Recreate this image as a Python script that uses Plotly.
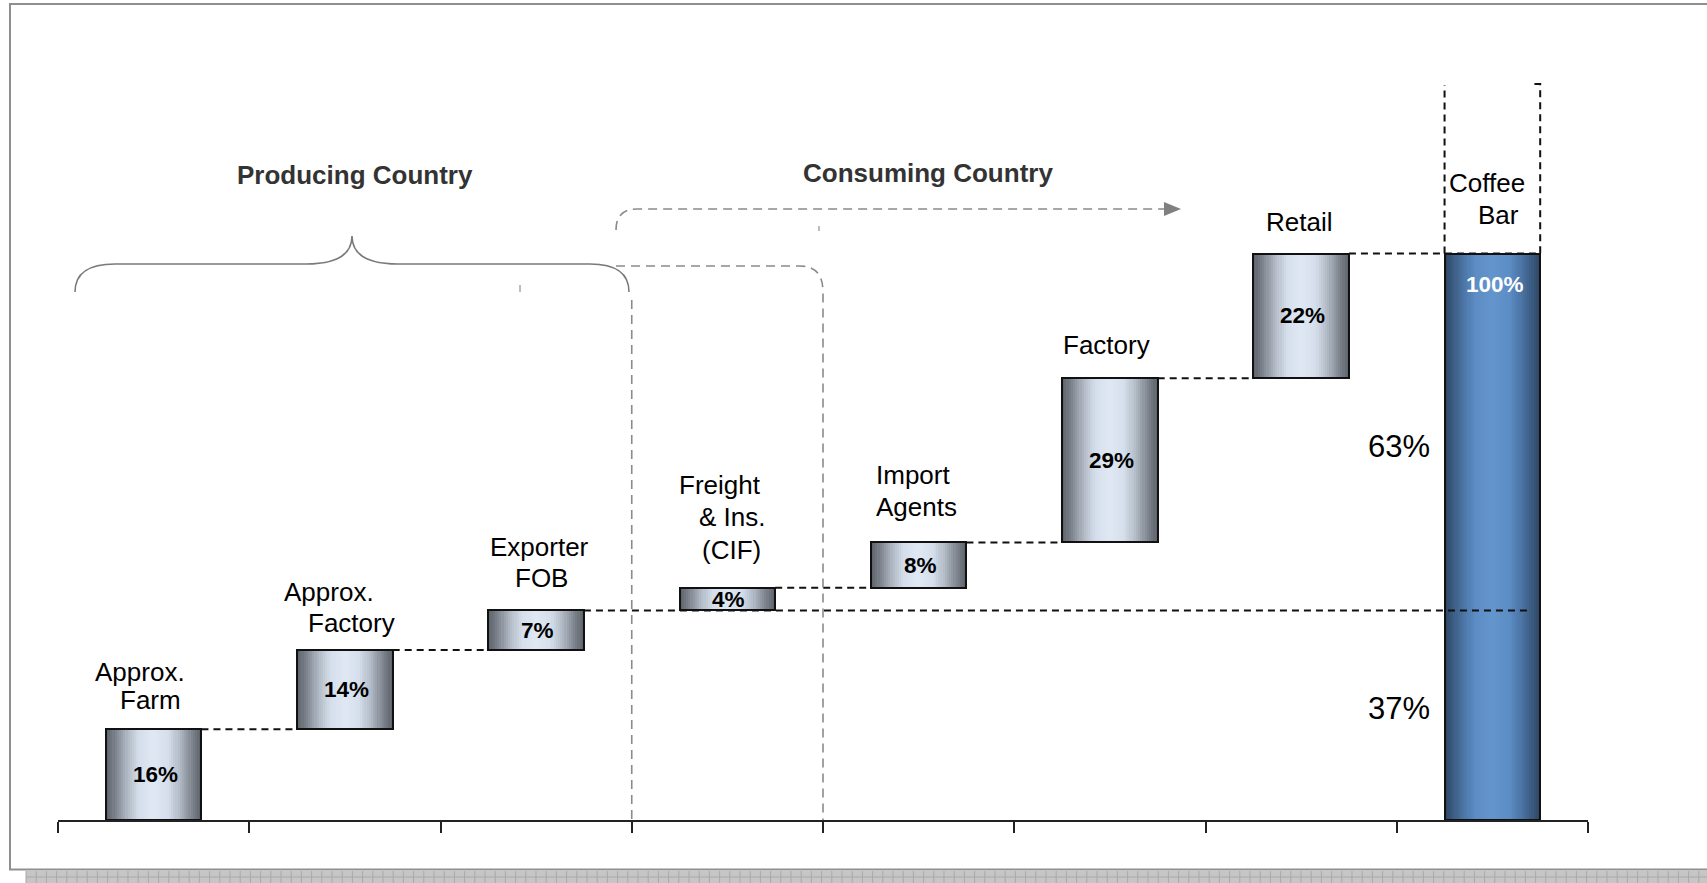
import plotly.graph_objects as go
from plotly.colors import sample_colorscale

# ---------------- data ----------------
STAGE_LINES = [
    ["Approx.", "Farm"],
    ["Approx.", "Factory"],
    ["Exporter", "FOB"],
    ["Freight", "& Ins.", "(CIF)"],
    ["Import", "Agents"],
    ["Factory"],
    ["Retail"],
    ["Coffee", "Bar"],
]
STEP_SHARES = [16, 14, 7, 4, 8, 29, 22]   # % of the coffee-bar price added at each stage
TOTAL_SHARE = 100                          # coffee bar price
PRODUCING_STAGES = 3                       # stages that happen in the producing country
GROUP_TITLES = ["Producing Country", "Consuming Country"]

# ---------------- derived values ----------------
bases = []
running = 0
for s in STEP_SHARES:
    bases.append(running)
    running += s
tops = [b + s for b, s in zip(bases, STEP_SHARES)]
n_cat = len(STAGE_LINES)
centers = [i + 0.5 for i in range(n_cat)]
producing_total = sum(STEP_SHARES[:PRODUCING_STAGES])
consuming_total = TOTAL_SHARE - producing_total

bar_x = centers
bar_y = STEP_SHARES + [TOTAL_SHARE]
bar_base = bases + [0]

# ---------------- layout constants ----------------
W, H = 1707, 883
M_L, M_R, M_T, M_B = 58, 119, 27, 63
Y_MAX = 140
BAR_W = 0.5
HALF = BAR_W / 2
FONT = "Liberation Sans, Arial, Helvetica, sans-serif"
PLOT_W = W - M_L - M_R
PLOT_H = H - M_T - M_B


def dx(px):
    """page pixel -> x data units"""
    return (px - M_L) / (PLOT_W / n_cat)


def dy(py):
    """page pixel -> y data units"""
    return (H - M_B - py) / (PLOT_H / Y_MAX)


def pxp(px):
    return (px - M_L) / PLOT_W


def pyp(py):
    return (H - M_B - py) / PLOT_H


fig = go.Figure()

# ---------------- cylinder-like shaded bars ----------------
GRAY_SCALE = [[0, "rgb(223,232,243)"], [0.3, "rgb(213,223,235)"], [0.55, "rgb(176,185,196)"],
              [0.8, "rgb(126,132,141)"], [1, "rgb(92,97,105)"]]
BLUE_SCALE = [[0, "rgb(99,149,205)"], [0.35, "rgb(93,141,197)"], [0.6, "rgb(76,117,166)"],
              [0.85, "rgb(57,88,125)"], [1, "rgb(44,68,98)"]]
N_LAYERS = 22
for k in range(N_LAYERS):
    w = BAR_W * (1 - k / N_LAYERS)
    d = 1 - (k + 0.5) / N_LAYERS
    g = sample_colorscale(GRAY_SCALE, [d])[0]
    b = sample_colorscale(BLUE_SCALE, [d])[0]
    fig.add_trace(go.Bar(
        x=bar_x, y=bar_y, base=bar_base, width=w,
        marker=dict(color=[g] * len(STEP_SHARES) + [b], line=dict(width=0)),
        hoverinfo="skip", showlegend=False,
    ))

# bar outlines
fig.add_trace(go.Bar(
    x=bar_x, y=bar_y, base=bar_base, width=BAR_W,
    marker=dict(color="rgba(0,0,0,0)", line=dict(color="#111111", width=2)),
    hoverinfo="skip", showlegend=False,
))

shapes = []

# ---------------- connectors ----------------
BLK_DASH = "7px,5px"
SPLIT_LINE_END = 7.69
for i in range(len(STEP_SHARES) - 1):
    if i == PRODUCING_STAGES - 1:
        continue
    shapes.append(dict(type="line", xref="x", yref="y",
                       x0=centers[i] + HALF, x1=centers[i + 1] - HALF, y0=tops[i], y1=tops[i],
                       line=dict(color="#111111", width=2, dash=BLK_DASH)))
# split between producing and consuming share
shapes.append(dict(type="line", xref="x", yref="y",
                   x0=centers[PRODUCING_STAGES - 1] + HALF, x1=SPLIT_LINE_END,
                   y0=producing_total, y1=producing_total,
                   line=dict(color="#111111", width=2, dash=BLK_DASH)))
# retail -> coffee bar
shapes.append(dict(type="line", xref="x", yref="y",
                   x0=centers[-2] + HALF, x1=centers[-1] + HALF, y0=tops[-1], y1=tops[-1],
                   line=dict(color="#111111", width=2, dash=BLK_DASH)))

# dashed box above the coffee bar
cb_l, cb_r = centers[-1] - HALF, centers[-1] + HALF
shapes.append(dict(type="path", xref="x", yref="y",
                   path=f"M {cb_l},{TOTAL_SHARE} L {cb_l},{dy(85)}",
                   line=dict(color="#111111", width=2, dash=BLK_DASH)))
shapes.append(dict(type="path", xref="x", yref="y",
                   path=f"M {cb_r - 0.03},{dy(84)} L {cb_r},{dy(84)} L {cb_r},{TOTAL_SHARE}",
                   line=dict(color="#111111", width=2, dash=BLK_DASH)))

# ---------------- producing-country brace ----------------
GRAY = "#7a7a7a"
brace = (f"M {dx(75)},{dy(292)} Q {dx(75)},{dy(264)} {dx(115)},{dy(264)} "
         f"L {dx(306)},{dy(264)} Q {dx(352)},{dy(264)} {dx(352)},{dy(236)} "
         f"Q {dx(352)},{dy(264)} {dx(398)},{dy(264)} "
         f"L {dx(590)},{dy(264)} Q {dx(629)},{dy(264)} {dx(629)},{dy(292)}")
shapes.append(dict(type="path", xref="x", yref="y", path=brace,
                   line=dict(color=GRAY, width=1.6)))
shapes.append(dict(type="line", xref="x", yref="y", x0=dx(520), x1=dx(520),
                   y0=dy(285), y1=dy(292), line=dict(color=GRAY, width=1)))

# ---------------- consuming-country dashed arrow ----------------
GRAY_DASH = "9px,6px"
arrow = f"M {dx(616)},{dy(230)} Q {dx(616)},{dy(209)} {dx(637)},{dy(209)} L {dx(1166)},{dy(209)}"
shapes.append(dict(type="path", xref="x", yref="y", path=arrow,
                   line=dict(color="#8a8a8a", width=1.6, dash=GRAY_DASH)))
shapes.append(dict(type="path", xref="x", yref="y",
                   path=f"M {dx(1164)},{dy(202)} L {dx(1181)},{dy(209)} L {dx(1164)},{dy(216)} Z",
                   fillcolor="#808080", line=dict(width=0)))
shapes.append(dict(type="line", xref="x", yref="y", x0=dx(819), x1=dx(819),
                   y0=dy(226), y1=dy(231), line=dict(color=GRAY, width=1)))

# bracket around the shipping stage
fr_l, fr_r = float(PRODUCING_STAGES), float(PRODUCING_STAGES + 1)
bracket = (f"M {dx(616)},{dy(266)} L {dx(800)},{dy(266)} "
           f"Q {fr_r},{dy(266)} {fr_r},{dy(292)} L {fr_r},0")
shapes.append(dict(type="path", xref="x", yref="y", path=bracket,
                   line=dict(color="#8a8a8a", width=1.6, dash=GRAY_DASH)))
shapes.append(dict(type="line", xref="x", yref="y", x0=fr_l, x1=fr_l, y0=dy(300), y1=0,
                   line=dict(color="#8a8a8a", width=1.6, dash=GRAY_DASH)))

# ---------------- slide frame and footer band ----------------
shapes.append(dict(type="path", xref="paper", yref="paper",
                   path=f"M {pxp(1712)},{pyp(4)} L {pxp(10)},{pyp(4)} L {pxp(10)},{pyp(869.5)} L {pxp(1712)},{pyp(869.5)}",
                   line=dict(color="#8f8f8f", width=2)))
shapes.append(dict(type="rect", xref="paper", yref="paper",
                   x0=pxp(26), x1=pxp(1710), y0=pyp(871), y1=pyp(884),
                   fillcolor="#c6c6c6", line=dict(width=0)))
grid = [f"M {pxp(26)},{pyp(877)} L {pxp(1710)},{pyp(877)}"]
gx = 26
while gx < 1710:
    grid.append(f"M {pxp(gx)},{pyp(871)} L {pxp(gx)},{pyp(884)}")
    gx += 10.2
shapes.append(dict(type="path", xref="paper", yref="paper", path=" ".join(grid),
                   line=dict(color="#a9a9a9", width=1)))

# ---------------- text ----------------
annotations = []

# stage names above bars: (x shift, y shift above bar top) per line
LABEL_SHIFTS = [
    [(-13.6, 57.7), (-3.6, 29.4)],
    [(-15.4, 58.1), (6.8, 27.1)],
    [(2.9, 63.4), (5.6, 32.4)],
    [(-7.4, 102.8), (4.6, 71.1), (4.6, 37.8)],
    [(-5.6, 67.5), (-1.9, 35.8)],
    [(-2.9, 33.2)],
    [(-2.1, 31.9)],
    [(-5.4, 70.6), (6.6, 38.6)],
]
bar_tops = tops + [TOTAL_SHARE]
for i, lines in enumerate(STAGE_LINES):
    for line, (xs, ys) in zip(lines, LABEL_SHIFTS[i]):
        annotations.append(dict(text=line, x=centers[i], y=bar_tops[i], xref="x", yref="y",
                                xshift=xs, yshift=ys, showarrow=False,
                                xanchor="center", yanchor="middle",
                                font=dict(family=FONT, size=26, color="#000000")))

# values inside step bars
for i, (b, s) in enumerate(zip(bases, STEP_SHARES)):
    annotations.append(dict(text=f"<b>{s}%</b>", x=centers[i], y=b + s / 2, xref="x", yref="y",
                            xshift=1.5, showarrow=False, xanchor="center", yanchor="middle",
                            font=dict(family=FONT, size=22.5, color="#000000")))
# total inside coffee bar
annotations.append(dict(text=f"<b>{TOTAL_SHARE}%</b>", x=centers[-1], y=TOTAL_SHARE,
                        xref="x", yref="y", xshift=2.6, yshift=-31.4, showarrow=False,
                        xanchor="center", yanchor="middle",
                        font=dict(family=FONT, size=22.5, color="#ffffff")))
# producing / consuming split
annotations.append(dict(text=f"{consuming_total}%", x=cb_l, y=producing_total + consuming_total / 2,
                        xref="x", yref="y", xshift=-13, yshift=-14.7, showarrow=False,
                        xanchor="right", yanchor="middle",
                        font=dict(family=FONT, size=31, color="#000000")))
annotations.append(dict(text=f"{producing_total}%", x=cb_l, y=producing_total / 2,
                        xref="x", yref="y", xshift=-13, yshift=6.9, showarrow=False,
                        xanchor="right", yanchor="middle",
                        font=dict(family=FONT, size=31, color="#000000")))

# group titles
for title, (tx, ty) in zip(GROUP_TITLES, [(355, 175), (928, 173)]):
    annotations.append(dict(text=f"<b>{title}</b>", x=pxp(tx), y=pyp(ty),
                            xref="paper", yref="paper", showarrow=False,
                            xanchor="center", yanchor="middle",
                            font=dict(family=FONT, size=26, color="#333333")))

fig.update_layout(
    width=W, height=H,
    margin=dict(l=M_L, r=M_R, t=M_T, b=M_B, pad=0),
    paper_bgcolor="#ffffff", plot_bgcolor="#ffffff",
    barmode="overlay", bargap=0,
    showlegend=False, hovermode=False,
    shapes=shapes, annotations=annotations,
    xaxis=dict(range=[0, n_cat], showgrid=False, zeroline=False,
               showline=True, linecolor="#222222", linewidth=2,
               ticks="outside", tickvals=list(range(n_cat + 1)), ticklen=11,
               tickwidth=1.5, tickcolor="#222222", showticklabels=False, fixedrange=True),
    yaxis=dict(range=[0, Y_MAX], visible=False, showgrid=False, zeroline=False, fixedrange=True),
)

fig.write_html("out.html", config={"displayModeBar": False})
